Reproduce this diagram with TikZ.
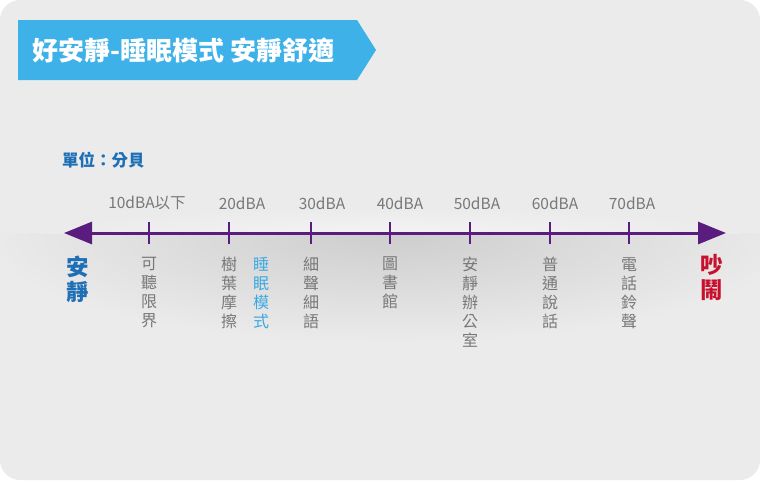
\documentclass[tikz,border=0pt]{standalone}
\usepackage{fontspec}
\setmainfont{Noto Sans CJK TC}
\usetikzlibrary{arrows.meta}
\definecolor{bg}{HTML}{EBEBEB}
\definecolor{shade}{HTML}{CDCDCD}
\definecolor{light}{HTML}{F3F3F3}
\definecolor{banner}{HTML}{3DB1E8}
\definecolor{axis}{HTML}{5B1C80}
\definecolor{txtgray}{HTML}{787878}
\definecolor{quiet}{HTML}{1E6FB6}
\definecolor{loud}{HTML}{C8102E}
\definecolor{sleep}{HTML}{3AA8E2}
\tikzset{
  dbalabel/.style={font=\fontsize{15.5}{16}\selectfont, text=txtgray, inner sep=0pt, anchor=center},
  vlabel/.style={font=\fontsize{16}{19}\selectfont, text=txtgray, inner sep=0pt, anchor=north, align=center},
  endlabel/.style={font=\fontsize{22.5}{25}\selectfont\bfseries, inner sep=0pt, anchor=north, align=center},
  tick/.style={draw=axis, line width=2pt},
}
\begin{document}
\begin{tikzpicture}[x=1pt,y=-1pt]
\useasboundingbox (0,0) rectangle (760,480);
\fill[white] (0,0) rectangle (760,480);
\fill[bg, rounded corners=20pt] (0,0) rectangle (760,480);
% shadow below the axis
\begin{scope}
  \clip (0,233) rectangle (760,480);
  \shade[inner color=shade, outer color=bg] (-20,123) rectangle (800,343);
\end{scope}
% light band above the axis
\begin{scope}
  \clip (0,190) rectangle (760,233);
  \shade[inner color=light, outer color=bg] (40,208) rectangle (740,258);
\end{scope}
% banner
\fill[banner] (18,20) -- (357,20) -- (376,50) -- (357,80) -- (18,80) -- cycle;
\node[font=\fontsize{26}{28}\selectfont\bfseries, text=white, anchor=west, inner sep=0pt] (title) at (32,50) {好安靜-睡眠模式 安靜舒適};
% unit
\node[font=\fontsize{16.5}{18}\selectfont\bfseries, text=quiet, anchor=west, inner sep=0pt] (unit) at (62,160) {單位：分貝};
% axis
\coordinate (L) at (64,233);
\coordinate (R) at (726,233);
\draw[axis, line width=3pt, {Triangle[length=28pt,width=22pt]}-{Triangle[length=28pt,width=22pt]}] (L) -- (R);
\foreach \n/\x in {1/149,2/229,3/311,4/390,5/470,6/550,7/629}{
  \coordinate (t\n) at (\x,233);
  \draw[tick] (\x,222) -- (\x,244);
}
% dBA labels
\node[dbalabel] (d1) at (147,203) {10dBA以下};
\node[dbalabel] (d2) at (242,203) {20dBA};
\node[dbalabel] (d3) at (322,203) {30dBA};
\node[dbalabel] (d4) at (400,203) {40dBA};
\node[dbalabel] (d5) at (477,203) {50dBA};
\node[dbalabel] (d6) at (555,203) {60dBA};
\node[dbalabel] (d7) at (632,203) {70dBA};
% vertical labels
\node[vlabel] (v1) at (149,257) {可\\聽\\限\\界};
\node[vlabel] (v2) at (229,257) {樹\\葉\\摩\\擦};
\node[vlabel, text=sleep] (v2b) at (261,257) {睡\\眠\\模\\式};
\node[vlabel] (v3) at (311,257) {細\\聲\\細\\語};
\node[vlabel] (v4) at (390,257) {圖\\書\\館};
\node[vlabel] (v5) at (470,257) {安\\靜\\辦\\公\\室};
\node[vlabel] (v6) at (550,257) {普\\通\\說\\話};
\node[vlabel] (v7) at (629,257) {電\\話\\鈴\\聲};
% end labels
\node[endlabel, text=quiet] (quietlbl) at (78,256) {安\\靜};
\node[endlabel, text=loud] (loudlbl) at (712,254) {吵\\鬧};
\end{tikzpicture}
\end{document}
